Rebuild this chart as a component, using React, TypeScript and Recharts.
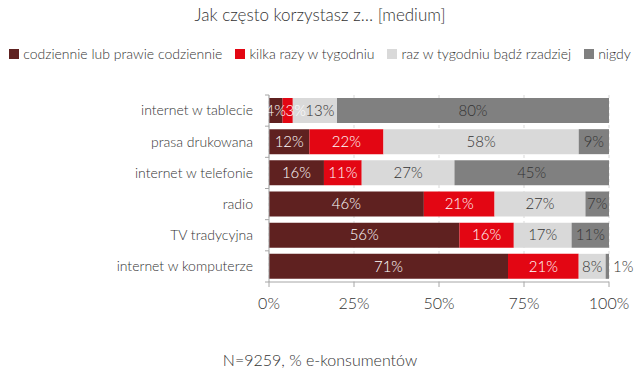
import React from 'react';
import { BarChart, Bar, XAxis, YAxis, CartesianGrid, Legend, LabelList } from 'recharts';

const media = [
  'internet w tablecie',
  'prasa drukowana',
  'internet w telefonie',
  'radio',
  'TV tradycyjna',
  'internet w komputerze',
];
const daily = [4, 12, 16, 46, 56, 71];
const weekly = [3, 22, 11, 21, 16, 21];
const rarely = [13, 58, 27, 27, 17, 8];
const never = [80, 9, 45, 7, 11, 1];
const xTicks = [0, 0.25, 0.5, 0.75, 1];

const data = media.map((m, i) => ({
  medium: m,
  daily: daily[i],
  weekly: weekly[i],
  rarely: rarely[i],
  never: never[i],
}));

const TEXT = '#333333';
const AXIS = '#a6a6a6';
const FONT = 'Lato, "Open Sans", sans-serif';
const W = 300;

const series = [
  { key: 'daily', name: 'codziennie lub prawie codziennie', color: '#5f2120', label: '#ffffff' },
  { key: 'weekly', name: 'kilka razy w tygodniu', color: '#e30613', label: '#ffffff' },
  { key: 'rarely', name: 'raz w tygodniu bądź rzadziej', color: '#d9d9d9', label: TEXT },
  { key: 'never', name: 'nigdy', color: '#808080', label: TEXT },
];
const keys = series.map((s) => s.key);

// rough width of a "NN%" label at 15px
const labelWidth = (v: number) => String(v).length * 8 + 12;

// centre of every label in a row, nudged right so neighbours don't collide
const rowCenters = (row: any, px: number, x0: number) => {
  let cursor = x0;
  let prevRight = -Infinity;
  return keys.map((k) => {
    const w = row[k] * px;
    const lw = labelWidth(row[k]);
    let c = cursor + w / 2;
    if (c - lw / 2 < prevRight) c = prevRight + lw / 2;
    prevRight = c + lw / 2;
    cursor += w;
    return c;
  });
};

const makeLabel = (si: number) => (props: any) => {
  const { x, y, width, height, value, index } = props;
  const cy = y + height / 2;
  const row: any = data[index];
  if (width < 6 && si === keys.length - 1) {
    return (
      <text x={x + width + 4} y={cy} dy="0.35em" fill={TEXT} fontSize={15} fontWeight={W}>
        {value}%
      </text>
    );
  }
  const px = width / value;
  const before = keys.slice(0, si).reduce((a, k) => a + row[k], 0);
  const cx = rowCenters(row, px, x - before * px)[si];
  return (
    <text x={cx} y={cy} dy="0.35em" textAnchor="middle" fill={series[si].label} fontSize={15} fontWeight={W}>
      {value}%
    </text>
  );
};

const CategoryTick = (props: any) => {
  const { x, y, payload, index, height, visibleTicksCount } = props;
  const half = height / visibleTicksCount / 2;
  const ax = x + 16;
  return (
    <g>
      <text x={x} y={y} dy="0.35em" textAnchor="end" fill={TEXT} fontSize={14} fontWeight={W}>
        {payload.value}
      </text>
      <line x1={ax - 4} x2={ax} y1={y - half} y2={y - half} stroke={AXIS} />
      {index === visibleTicksCount - 1 && (
        <line x1={ax - 4} x2={ax} y1={y + half} y2={y + half} stroke={AXIS} />
      )}
    </g>
  );
};

const LegendRow = () => (
  <div
    style={{
      display: 'flex',
      justifyContent: 'center',
      alignItems: 'center',
      gap: 13,
      fontSize: 14,
      fontWeight: W,
      color: TEXT,
      whiteSpace: 'nowrap',
    }}
  >
    {series.map((s) => (
      <span key={s.key} style={{ display: 'flex', alignItems: 'center' }}>
        <span style={{ width: 10, height: 10, background: s.color, marginRight: 4, display: 'inline-block' }} />
        {s.name}
      </span>
    ))}
  </div>
);

const App: React.FC = () => {
  return (
    <div
      style={{
        position: 'absolute',
        left: 0,
        top: 0,
        width: 640,
        height: 373,
        background: '#fff',
        fontFamily: FONT,
        color: TEXT,
      }}
    >
      <div
        style={{
          position: 'absolute',
          top: 4,
          width: 640,
          textAlign: 'center',
          fontSize: 17,
          fontWeight: W,
        }}
      >
        Jak często korzystasz z… [medium]
      </div>
      <BarChart
        width={640}
        height={373}
        data={data}
        layout="vertical"
        stackOffset="expand"
        barSize={25}
        margin={{ top: 78, right: 31, bottom: 61, left: 0 }}
      >
        <CartesianGrid horizontal={false} strokeDasharray="3 3" stroke="#d9d9d9" />
        <XAxis
          type="number"
          domain={[0, 1]}
          ticks={xTicks}
          tickFormatter={(v: number) => `${Math.round(v * 100)}%`}
          axisLine={{ stroke: AXIS }}
          tickLine={{ stroke: AXIS }}
          tickSize={5}
          tickMargin={11}
          tick={{ fill: TEXT, fontSize: 16, fontWeight: W }}
        />
        <YAxis
          type="category"
          dataKey="medium"
          width={269}
          axisLine={{ stroke: AXIS }}
          tickLine={false}
          tickSize={0}
          tickMargin={16}
          tick={<CategoryTick />}
        />
        <Legend
          verticalAlign="top"
          wrapperStyle={{ top: 45, left: 0, width: 640 }}
          content={<LegendRow />}
        />
        {series.map((s, si) => (
          <Bar key={s.key} dataKey={s.key} name={s.name} stackId="a" fill={s.color} isAnimationActive={false}>
            <LabelList dataKey={s.key} content={makeLabel(si)} />
          </Bar>
        ))}
      </BarChart>
      <div
        style={{
          position: 'absolute',
          top: 350,
          width: 640,
          textAlign: 'center',
          fontSize: 16,
          fontWeight: W,
        }}
      >
        N=9259, % e-konsumentów
      </div>
    </div>
  );
};

export default App;
